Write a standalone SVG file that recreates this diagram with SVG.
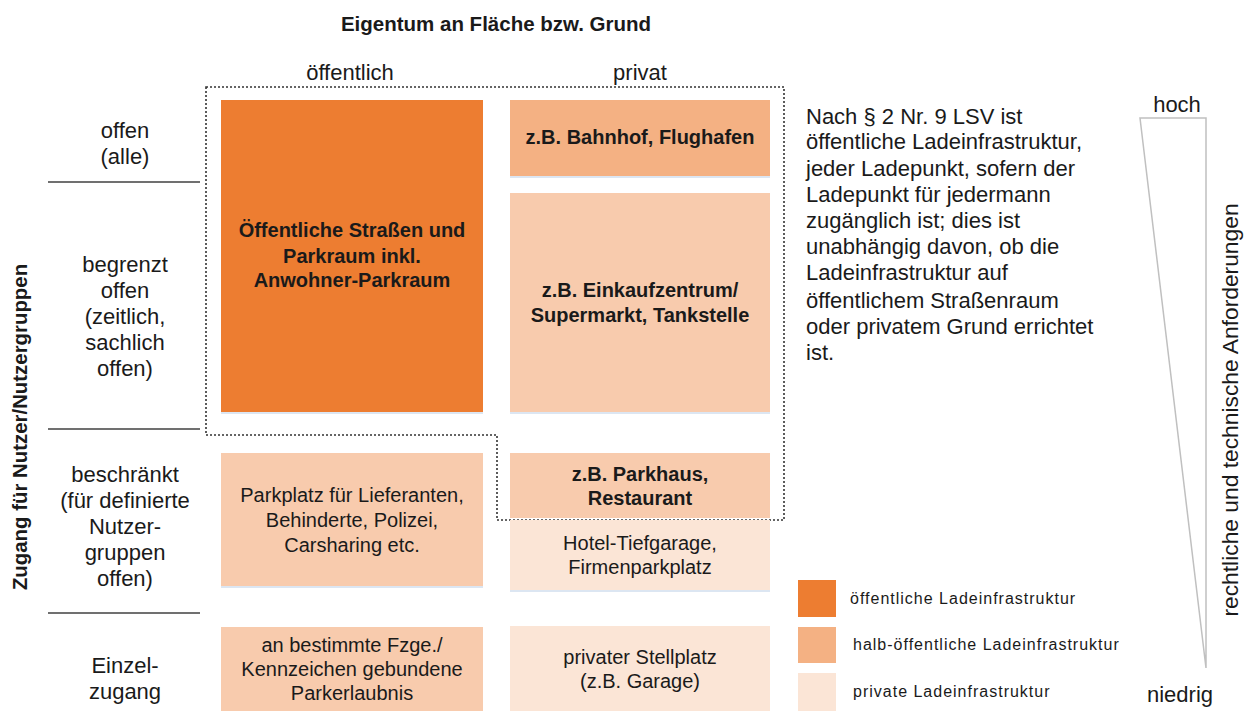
<svg xmlns="http://www.w3.org/2000/svg" width="1245" height="711" viewBox="0 0 1245 711">
<style>
text{font-family:"Liberation Sans",Arial,sans-serif;fill:#1a1a1a}
.t{font-size:22px;text-anchor:middle}
.b{font-size:20px;font-weight:bold;text-anchor:middle}
.r{font-size:20px;text-anchor:middle}
.p{font-size:22px}
.lg{font-size:16px;letter-spacing:1px}
.sep{stroke:#404040;stroke-width:1.3}
.c1{fill:#ED7D31}
.c2{fill:#F4B183}
.c3{fill:#F8CBAD}
.c4{fill:#FBE5D6}
.sh{fill:#DCE6F2}
</style>
<rect width="1245" height="711" fill="#fff"/>
<text x="496" y="31" class="b" style="font-size:20.5px">Eigentum an Fläche bzw. Grund</text>
<text x="350" y="80" class="t">öffentlich</text>
<text x="640" y="80" class="t">privat</text>

<g id="row-labels">
<text x="125" y="138" class="t">offen</text>
<text x="125" y="164" class="t">(alle)</text>
<line x1="48" y1="182" x2="200" y2="182" class="sep"/>
<text x="125" y="272" class="t">begrenzt</text>
<text x="125" y="298" class="t">offen</text>
<text x="125" y="324" class="t">(zeitlich,</text>
<text x="125" y="350" class="t">sachlich</text>
<text x="125" y="376" class="t">offen)</text>
<line x1="48" y1="429" x2="200" y2="429" class="sep"/>
<text x="125" y="482" class="t">beschränkt</text>
<text x="125" y="508" class="t">(für definierte</text>
<text x="125" y="534" class="t">Nutzer-</text>
<text x="125" y="560" class="t">gruppen</text>
<text x="125" y="586" class="t">offen)</text>
<line x1="48" y1="613" x2="200" y2="613" class="sep"/>
<text x="125" y="673" class="t">Einzel-</text>
<text x="125" y="699" class="t">zugang</text>
<text transform="translate(27,427) rotate(-90)" class="b" style="font-size:20.4px">Zugang für Nutzer/Nutzergruppen</text>
</g>

<g id="connectors">
<path d="M206,87 H784 V520 H497 V435 H206 Z" fill="none" stroke="#333" stroke-width="1.6" stroke-dasharray="2,2"/>
</g>

<g id="n-oeffentlich">
<rect x="221" y="102" width="262" height="312" class="sh"/>
<rect x="221" y="100" width="262" height="312" class="c1"/>
<text x="352" y="237" class="b">Öffentliche Straßen und</text>
<text x="352" y="263" class="b">Parkraum inkl.</text>
<text x="352" y="287" class="b">Anwohner-Parkraum</text>
</g>
<g id="n-bahnhof">
<rect x="510" y="102" width="260" height="76" class="sh"/>
<rect x="510" y="100" width="260" height="76" class="c2"/>
<text x="640" y="144" class="b">z.B. Bahnhof, Flughafen</text>
</g>
<g id="n-einkauf">
<rect x="510" y="195" width="260" height="219" class="sh"/>
<rect x="510" y="193" width="260" height="219" class="c3"/>
<text x="640" y="297" class="b">z.B. Einkaufzentrum/</text>
<text x="640" y="322" class="b">Supermarkt, Tankstelle</text>
</g>
<g id="n-lieferanten">
<rect x="221" y="455" width="262" height="133" class="sh"/>
<rect x="221" y="453" width="262" height="133" class="c3"/>
<text x="352" y="502" class="r">Parkplatz für Lieferanten,</text>
<text x="352" y="527" class="r">Behinderte, Polizei,</text>
<text x="352" y="552" class="r">Carsharing etc.</text>
</g>
<g id="n-parkhaus">
<rect x="510" y="453" width="260" height="65" class="c3"/>
<text x="640" y="481" class="b">z.B. Parkhaus,</text>
<text x="640" y="505" class="b">Restaurant</text>
</g>
<g id="n-hotel">
<rect x="510" y="522" width="260" height="70" class="sh"/>
<rect x="510" y="520" width="260" height="70" class="c4"/>
<text x="640" y="550" class="r">Hotel-Tiefgarage,</text>
<text x="640" y="574" class="r">Firmenparkplatz</text>
</g>
<g id="n-fzge">
<rect x="221" y="627" width="262" height="90" class="c3"/>
<text x="352" y="652" class="r">an bestimmte Fzge./</text>
<text x="352" y="676" class="r">Kennzeichen gebundene</text>
<text x="352" y="700" class="r">Parkerlaubnis</text>
</g>
<g id="n-stellplatz">
<rect x="510" y="626" width="260" height="90" class="c4"/>
<text x="640" y="664" class="r">privater Stellplatz</text>
<text x="640" y="688" class="r">(z.B. Garage)</text>
</g>

<g id="definition">
<text x="806" y="124" class="p">Nach § 2 Nr. 9 LSV ist</text>
<text x="806" y="149" class="p">öffentliche Ladeinfrastruktur,</text>
<text x="806" y="176" class="p">jeder Ladepunkt, sofern der</text>
<text x="806" y="202" class="p">Ladepunkt für jedermann</text>
<text x="806" y="228" class="p">zugänglich ist; dies ist</text>
<text x="806" y="254" class="p">unabhängig davon, ob die</text>
<text x="806" y="280" class="p">Ladeinfrastruktur auf</text>
<text x="806" y="308" class="p">öffentlichem Straßenraum</text>
<text x="806" y="334" class="p">oder privatem Grund errichtet</text>
<text x="806" y="360" class="p">ist.</text>
</g>

<g id="legend">
<rect x="798" y="580" width="38" height="37" class="c1"/>
<rect x="798" y="627" width="38" height="36" class="c2"/>
<rect x="798" y="673" width="38" height="38" class="c4"/>
<text x="850" y="604" class="lg">öffentliche Ladeinfrastruktur</text>
<text x="853" y="650" class="lg">halb-öffentliche Ladeinfrastruktur</text>
<text x="853" y="697" class="lg">private Ladeinfrastruktur</text>
</g>

<g id="scale">
<path d="M1140,118 H1206 V668 Z" fill="none" stroke="#C0C0C0" stroke-width="1.5"/>
<text x="1177" y="112" class="t">hoch</text>
<text x="1180" y="702" class="t">niedrig</text>
<text transform="translate(1238,410) rotate(-90)" class="t" style="font-size:22.8px">rechtliche und technische Anforderungen</text>
</g>
</svg>
